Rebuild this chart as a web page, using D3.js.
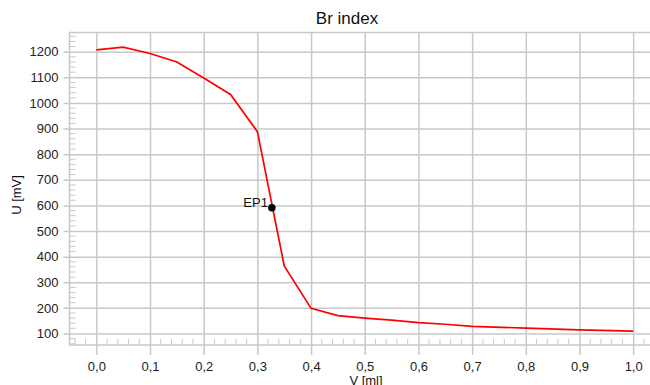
<!DOCTYPE html>
<html>
<head>
<meta charset="utf-8">
<script src="https://cdn.jsdelivr.net/npm/d3@7"></script>
<style>
  body { margin: 0; background: #fff; }
  svg { display: block; font-family: "Liberation Sans", Arial, sans-serif; }
</style>
</head>
<body>
<div id="chart"></div>
<script>
// titration curve
const volume = [0.0, 0.05, 0.1, 0.15, 0.2, 0.25, 0.3, 0.35, 0.4, 0.45, 0.5, 0.55, 0.6, 0.65, 0.7, 0.8, 0.9, 1.0];
const potential = [1207, 1218, 1193, 1160, 1097, 1033, 888, 364, 198, 170, 160, 152, 142, 136, 128, 121, 114, 109];
const endpointV = [0.327];
const endpointU = [591];
const endpointLabel = ['EP1'];
const xTicks = [0.0, 0.1, 0.2, 0.3, 0.4, 0.5, 0.6, 0.7, 0.8, 0.9, 1.0];
const yTicks = [100, 200, 300, 400, 500, 600, 700, 800, 900, 1000, 1100, 1200];

const width = 650, height = 385;
const pLeft = 69.5, pTop = 32.5, pBottom = 345, pRight = 660;

const svg = d3.select('#chart').append('svg')
    .attr('width', width).attr('height', height);

const x = d3.scaleLinear().domain([-0.05, 1.05]).range([pLeft, pRight]);
const y = d3.scaleLinear().domain([55, 1275]).range([pBottom, pTop]);

const GRID = '#c8c8c8';
const g = svg.append('g');

// gridlines (they run past the frame as outer ticks)
g.append('g').attr('transform', `translate(0,${pBottom})`)
    .call(d3.axisBottom(x).tickValues(xTicks).tickSize(-(pBottom - pTop)).tickSizeOuter(0)
        .tickFormat((d) => d3.format('.1f')(d).replace('.', ',')).tickPadding(17))
    .call((sel) => sel.select('.domain').remove())
    .call((sel) => sel.selectAll('line').attr('stroke', GRID).attr('stroke-width', 1.5).attr('y1', 10))
    .call((sel) => sel.selectAll('text').attr('font-size', 13).attr('fill', '#222'));

g.append('g').attr('transform', `translate(${pLeft},0)`)
    .call(d3.axisLeft(y).tickValues(yTicks).tickSize(-(pRight - pLeft)).tickSizeOuter(0)
        .tickFormat(d3.format('d')).tickPadding(11))
    .call((sel) => sel.select('.domain').remove())
    .call((sel) => sel.selectAll('line').attr('stroke', GRID).attr('stroke-width', 1.5).attr('x1', -6))
    .call((sel) => sel.selectAll('text').attr('font-size', 13).attr('fill', '#222'));

// minor ticks inside the frame
const xMinor = d3.range(-0.04, 1.05, 0.02).filter((v) => Math.abs(v * 10 - Math.round(v * 10)) > 1e-6);
g.append('g').selectAll('line').data(xMinor).join('line')
    .attr('x1', (d) => x(d)).attr('x2', (d) => x(d))
    .attr('y1', pBottom).attr('y2', pBottom - 6)
    .attr('stroke', GRID).attr('stroke-width', 1);

const yMinor = d3.range(60, 1275, 20).filter((v) => v % 100 !== 0);
g.append('g').selectAll('line').data(yMinor).join('line')
    .attr('x1', pLeft).attr('x2', pLeft + 6)
    .attr('y1', (d) => y(d)).attr('y2', (d) => y(d))
    .attr('stroke', GRID).attr('stroke-width', 1);

// frame
g.append('path')
    .attr('d', `M${pRight},${pTop}H${pLeft}V${pBottom}H${pRight}`)
    .attr('fill', 'none').attr('stroke', GRID).attr('stroke-width', 1.5);

// curve
const data = volume.map((v, i) => ({ v, u: potential[i] }));
g.append('path').datum(data)
    .attr('fill', 'none').attr('stroke', '#ff0000').attr('stroke-width', 1.7)
    .attr('d', d3.line().x((d) => x(d.v)).y((d) => y(d.u)));

// endpoint
endpointV.forEach((v, i) => {
    g.append('circle').attr('cx', x(v)).attr('cy', y(endpointU[i])).attr('r', 3.8).attr('fill', '#000');
    g.append('text').attr('x', x(v) - 4).attr('y', y(endpointU[i]) - 1)
        .attr('text-anchor', 'end').attr('font-size', 13).attr('fill', '#111')
        .text(endpointLabel[i]);
});

// titles
svg.append('text').attr('x', 347).attr('y', 24).attr('text-anchor', 'middle')
    .attr('font-size', 17).attr('fill', '#111').text('Br index');
svg.append('text').attr('transform', 'translate(21,195) rotate(-90)').attr('text-anchor', 'middle')
    .attr('font-size', 13).attr('fill', '#111').text('U [mV]');
svg.append('text').attr('x', 366).attr('y', 385).attr('text-anchor', 'middle')
    .attr('font-size', 13).attr('fill', '#111').text('V [ml]');
</script>
</body>
</html>
